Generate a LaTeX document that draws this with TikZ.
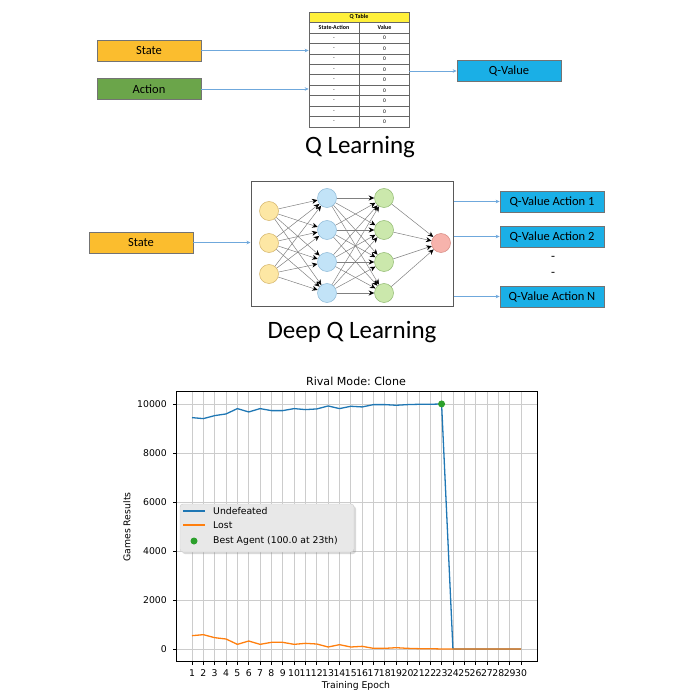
\documentclass[tikz,border=0pt]{standalone}
\usepackage{fontspec}
\setmainfont{Carlito}
\newfontfamily\plotfont{DejaVu Sans}
\usetikzlibrary{arrows.meta,positioning,shadows}

\definecolor{stateorange}{HTML}{FBBD2E}
\definecolor{actiongreen}{HTML}{6BA54A}
\definecolor{qblue}{HTML}{1AAFE6}
\definecolor{linkblue}{HTML}{6FA8DC}
\definecolor{tabyellow}{HTML}{FFF03A}
\definecolor{nnyellow}{HTML}{FDE7A4}
\definecolor{nnyellowd}{HTML}{D4B46A}
\definecolor{nnblue}{HTML}{C2E3F7}
\definecolor{nnblued}{HTML}{8DB9D6}
\definecolor{nngreen}{HTML}{CBE8AC}
\definecolor{nngreend}{HTML}{8FB86F}
\definecolor{nnred}{HTML}{F7B3AC}
\definecolor{nnredd}{HTML}{D68A82}
\definecolor{mplblue}{HTML}{1F77B4}
\definecolor{mplorange}{HTML}{FF7F0E}
\definecolor{mplgreen}{HTML}{2CA02C}
\definecolor{gridgray}{HTML}{CCCCCC}

\begin{document}
\frenchspacing
\begin{tikzpicture}[x=1pt,y=-1pt,>={Stealth[length=4pt,width=3.5pt]},
  box/.style={draw=black!55,line width=0.7pt,minimum width=104pt,minimum height=21pt,inner sep=0pt,font=\fontsize{12.5}{14}\selectfont},
  link/.style={->,draw=linkblue,line width=0.7pt},
  neuron/.style={circle,draw,line width=0.5pt,minimum size=19pt,inner sep=0pt},
  synapse/.style={-{Stealth[length=5.5pt,width=5pt,black]},draw=black!50,line width=0.5pt},
  cell/.style={inner sep=0pt,font=\fontsize{5.5}{6}\selectfont},
  cellhead/.style={inner sep=0pt,font=\bfseries\fontsize{6}{7}\selectfont},
  rowline/.style={draw=black!60,line width=0.6pt},
  ticklab/.style={inner sep=0pt,font=\plotfont\fontsize{9.3}{11}\selectfont},
  gridline/.style={draw=gridgray,line width=0.8pt}]
  \useasboundingbox (0,0) rectangle (700,700);

  % Q learning
  \node[box,fill=stateorange] (state) at (149,50.5) {State};
  \node[box,fill=actiongreen] (action) at (149,89) {Action};
  \node[box,fill=qblue] (qvalue) at (509,71) {Q-Value};
  \fill[tabyellow] (309,12) rectangle (409,22);
  \node[draw=black!60,line width=0.6pt,minimum width=100pt,minimum height=115pt,inner sep=0pt] (qtable) at (359,69.5) {};
  \draw[rowline] (309,22) -- (409,22);
  \foreach \r in {0,...,8}
    \draw[rowline] (309,{33+10.44*\r}) -- (409,{33+10.44*\r});
  \draw[rowline] (359.5,22) -- (359.5,127);
  \node[cellhead] (qhead) at (359,17) {Q Table};
  \node[cellhead] (colsa) at (334,27.5) {State-Action};
  \node[cellhead] (colval) at (384.5,27.5) {Value};
  \foreach \r in {1,...,9} {
    \node[cell] (sa\r) at (334,{33+10.44*(\r-0.5)}) {-};
    \node[cell] (val\r) at (384.5,{33+10.44*(\r-0.5)}) {0};
  }
  \draw[link] (state) -- (state -| qtable.west);
  \draw[link] (action) -- (action -| qtable.west);
  \draw[link] (qtable.east |- qvalue) -- (qvalue);
  \node[font=\fontsize{25}{28}\selectfont] (qltitle) at (360,147) {Q Learning};

  % Deep Q learning
  \node[draw=black!65,line width=1pt,minimum width=202pt,minimum height=124pt,inner sep=0pt] (nnbox) at (352,244) {};
  \node[neuron,fill=nnyellow,draw=nnyellowd] (i1) at (269,211) {};
  \node[neuron,fill=nnyellow,draw=nnyellowd] (i2) at (269,243) {};
  \node[neuron,fill=nnyellow,draw=nnyellowd] (i3) at (269,274) {};
  \node[neuron,fill=nnblue,draw=nnblued] (h1) at (327,198) {};
  \node[neuron,fill=nnblue,draw=nnblued] (h2) at (327,230) {};
  \node[neuron,fill=nnblue,draw=nnblued] (h3) at (327,262) {};
  \node[neuron,fill=nnblue,draw=nnblued] (h4) at (327,293) {};
  \node[neuron,fill=nngreen,draw=nngreend] (g1) at (384,198) {};
  \node[neuron,fill=nngreen,draw=nngreend] (g2) at (384,230) {};
  \node[neuron,fill=nngreen,draw=nngreend] (g3) at (384,262) {};
  \node[neuron,fill=nngreen,draw=nngreend] (g4) at (384,293) {};
  \node[neuron,fill=nnred,draw=nnredd] (o) at (441,243) {};
  \foreach \a in {1,2,3}
    \foreach \b in {1,...,4}
      \draw[synapse] (i\a) -- (h\b);
  \foreach \a in {1,...,4}
    \foreach \b in {1,...,4}
      \draw[synapse] (h\a) -- (g\b);
  \foreach \a in {1,...,4}
    \draw[synapse] (g\a) -- (o);
  \node[box,fill=stateorange] (dqstate) at (141,242.5) {State};
  \node[box,fill=qblue] (qa1) at (552,201.5) {Q-Value Action 1};
  \node[box,fill=qblue] (qa2) at (552,236.5) {Q-Value Action 2};
  \node[box,fill=qblue] (qan) at (552,296.5) {Q-Value Action N};
  \node[font=\fontsize{13}{14}\selectfont] (dash1) at (553,258) {-};
  \node[font=\fontsize{13}{14}\selectfont] (dash2) at (553,274) {-};
  \draw[link] (dqstate) -- (dqstate -| nnbox.west);
  \draw[link] (nnbox.east |- qa1) -- (qa1);
  \draw[link] (nnbox.east |- qa2) -- (qa2);
  \draw[link] (nnbox.east |- qan) -- (qan);
  \node[font=\fontsize{25}{28}\selectfont] (dqltitle) at (352,332) {Deep Q Learning};

  % training plot
  \begin{scope}[shift={(180.655,649)},x=11.345pt,y=0.0245pt]
    \foreach \e in {1,...,30}
      \draw[gridline] (\e,-500) -- (\e,10500);
    \foreach \v in {0,2000,...,10000}
      \draw[gridline] (-0.41,\v) -- (31.41,\v);
    \draw[line width=0.8pt] (-0.41,-500) rectangle (31.41,10500);
    \foreach \e in {1,...,30} {
      \draw[line width=0.8pt] (\e,-500) -- ++(0pt,-3.5pt);
      \node[ticklab,anchor=north] (xt\e) at ([yshift=-8pt]\e,-500) {\e};
    }
    \foreach \v in {0,2000,...,10000} {
      \draw[line width=0.8pt] (-0.41,\v) -- ++(-3.5pt,0pt);
      \node[ticklab,anchor=east] (yt\v) at ([xshift=-9pt]-0.41,\v) {\v};
    }
    \draw[mplblue,line width=1.3pt,line join=round] plot coordinates {
      (1,9442) (2,9401) (3,9524) (4,9592) (5,9810) (6,9673) (7,9810) (8,9728)
      (9,9728) (10,9810) (11,9769) (12,9796) (13,9918) (14,9810) (15,9905)
      (16,9878) (17,9973) (18,9973) (19,9946) (20,9973) (21,9986) (22,9986)
      (23,10000) (24,0) (25,0) (26,0) (27,0) (28,0) (29,0) (30,0)};
    \draw[mplorange,line width=1.3pt,line join=round] plot coordinates {
      (1,544) (2,585) (3,462) (4,408) (5,190) (6,326) (7,190) (8,272)
      (9,272) (10,190) (11,231) (12,204) (13,82) (14,177) (15,82)
      (16,109) (17,27) (18,27) (19,54) (20,27) (21,14) (22,14)
      (23,0) (24,0) (25,0) (26,0) (27,0) (28,0) (29,0) (30,0)};
    \fill[mplgreen] (23,10000) circle[radius=3.5pt];
  \end{scope}
  \node[font=\plotfont\fontsize{11.1}{13}\selectfont] (ptitle) at (356,381) {Rival Mode: Clone};
  \node[ticklab] (xlab) at (356,686) {Training Epoch};
  \node[ticklab,rotate=90] (ylab) at (127,527) {Games Results};

  % legend
  \node[draw=black!20,fill=black!9,rounded corners=3pt,minimum width=174pt,minimum height=48pt,
    drop shadow={shadow xshift=2pt,shadow yshift=-2pt,opacity=0.3}] (legend) at (267,528) {};
  \draw[mplblue,line width=1.4pt] (183,511) -- (205,511);
  \draw[mplorange,line width=1.4pt] (183,525) -- (205,525);
  \fill[mplgreen] (194,541) circle[radius=3.5];
  \node[ticklab,anchor=west] (legund) at (213,511) {Undefeated};
  \node[ticklab,anchor=west] (leglost) at (213,525) {Lost};
  \node[ticklab,anchor=west] (legbest) at (213,541) {Best Agent (100.0 at 23th)};
\end{tikzpicture}
\end{document}
